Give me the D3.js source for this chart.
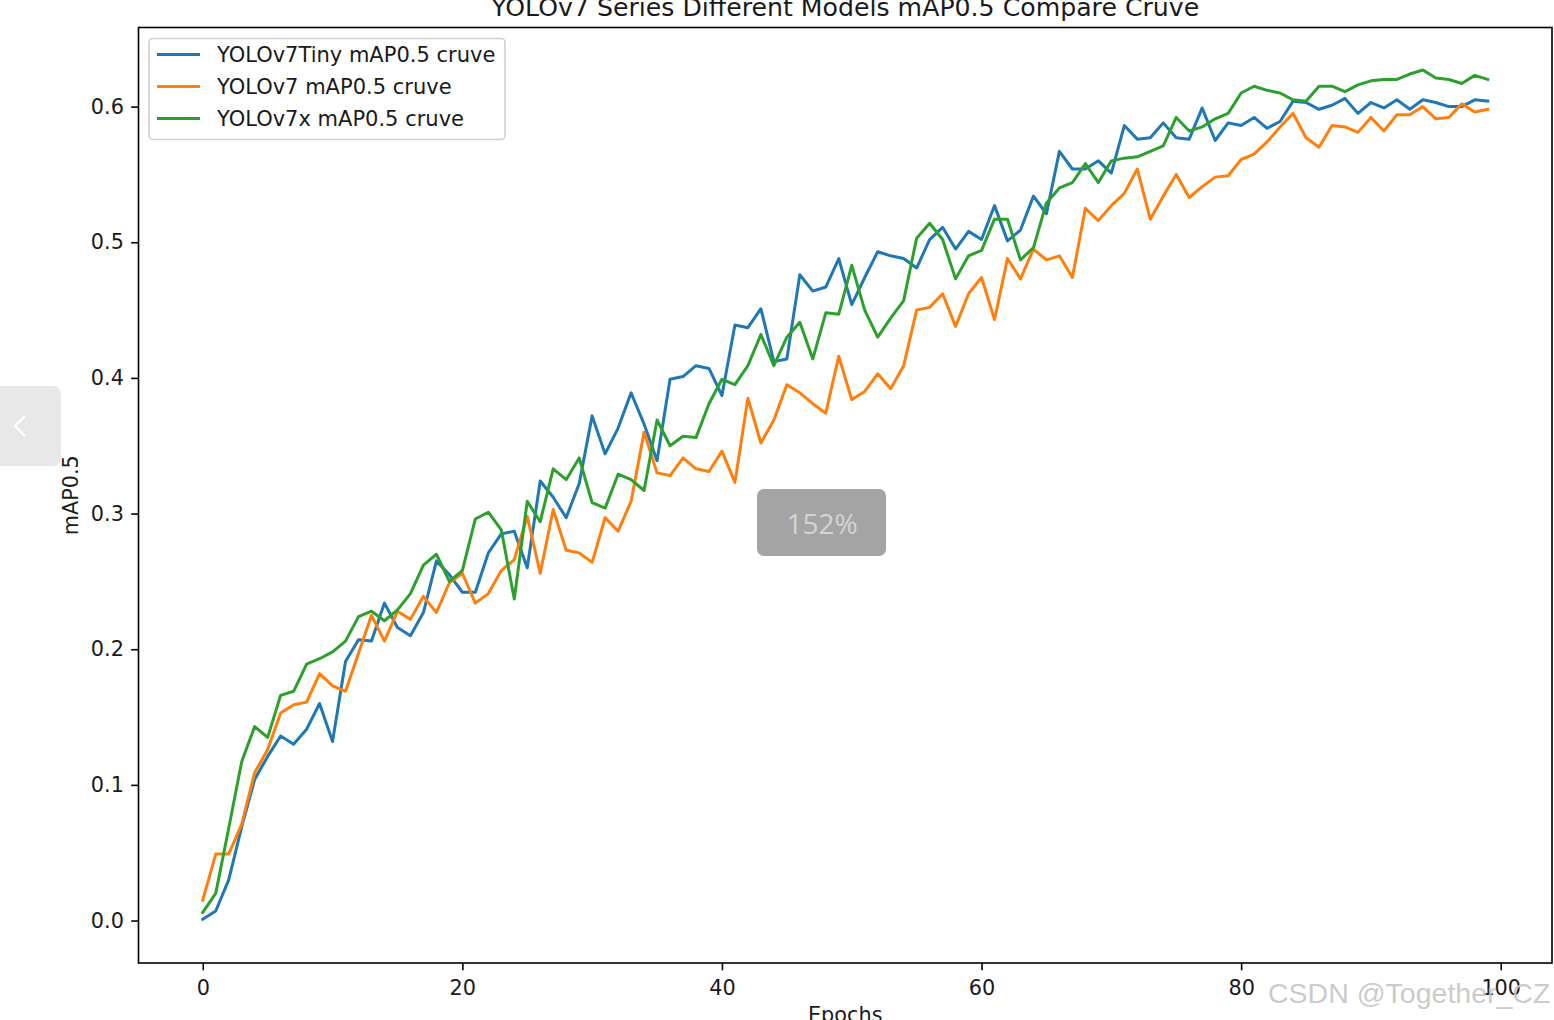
<!DOCTYPE html>
<html>
<head>
<meta charset="utf-8">
<script src="https://cdn.jsdelivr.net/npm/d3@7"></script>
<style>
  html, body { margin: 0; padding: 0; background: #fff; overflow: hidden; }
  svg { display: block; font-family: "DejaVu Sans", sans-serif; }
</style>
</head>
<body>
<svg id="chart" width="1554" height="1020"></svg>
<script>
// ---------------- data ----------------
const title = "YOLOv7 Series Different Models mAP0.5 Compare Cruve";
const xLabel = "Epochs";
const yLabel = "mAP0.5";
const seriesNames = ["YOLOv7Tiny mAP0.5 cruve", "YOLOv7 mAP0.5 cruve", "YOLOv7x mAP0.5 cruve"];
const seriesColors = ["#1f77b4", "#ff7f0e", "#2ca02c"];
const xTicks = [0, 20, 40, 60, 80, 100];
const yTicks = [0.0, 0.1, 0.2, 0.3, 0.4, 0.5, 0.6];

const tinyMap = [
  0.001,0.007,0.030,0.069,0.104,0.121,0.136,0.130,0.141,0.160,0.132,0.191,0.207,0.206,0.234,0.216,0.210,0.227,
  0.265,0.255,0.242,0.242,0.271,0.285,0.287,0.260,0.324,0.312,0.297,0.322,0.372,0.344,0.363,0.389,0.366,
  0.339,0.399,0.401,0.409,0.407,0.387,0.439,0.437,0.451,0.412,0.414,0.476,0.464,0.467,0.488,0.454,
  0.474,0.493,0.490,0.488,0.481,0.502,0.511,0.495,0.508,0.502,0.527,0.501,0.509,0.534,0.521,0.567,0.554,0.554,
  0.560,0.551,0.586,0.576,0.577,0.588,0.577,0.576,0.599,0.575,0.588,0.586,0.592,0.584,0.589,0.604,
  0.603,0.598,0.601,0.606,0.595,0.603,0.599,0.605,0.598,0.605,0.603,0.600,0.600,0.605,0.604
];
const v7Map = [
  0.015,0.049,0.049,0.071,0.109,0.126,0.153,0.159,0.161,0.182,0.173,0.169,0.197,0.225,0.206,0.228,0.222,0.239,
  0.227,0.249,0.256,0.234,0.241,0.258,0.266,0.298,0.256,0.303,0.273,0.271,0.264,0.297,0.287,0.309,0.360,
  0.330,0.328,0.341,0.333,0.331,0.346,0.323,0.385,0.352,0.369,0.395,0.389,0.381,0.374,0.416,0.384,
  0.390,0.403,0.392,0.409,0.450,0.452,0.462,0.438,0.462,0.474,0.443,0.488,0.473,0.495,0.487,0.490,0.474,0.525,
  0.516,0.527,0.536,0.554,0.517,0.534,0.550,0.533,0.541,0.548,0.549,0.561,0.565,0.574,0.585,0.595,
  0.577,0.570,0.586,0.585,0.581,0.592,0.582,0.594,0.594,0.600,0.591,0.592,0.602,0.596,0.598
];
const v7xMap = [
  0.006,0.020,0.068,0.117,0.143,0.135,0.166,0.169,0.189,0.193,0.198,0.206,0.224,0.228,0.221,0.229,0.241,0.262,
  0.270,0.250,0.258,0.296,0.301,0.288,0.237,0.309,0.294,0.333,0.325,0.341,0.308,0.304,0.329,0.325,0.317,
  0.369,0.350,0.357,0.356,0.381,0.399,0.395,0.409,0.432,0.409,0.430,0.441,0.414,0.448,0.447,0.483,
  0.450,0.430,0.444,0.457,0.503,0.514,0.502,0.473,0.490,0.494,0.517,0.517,0.487,0.496,0.529,0.540,0.544,0.558,
  0.544,0.560,0.562,0.563,0.567,0.571,0.592,0.582,0.585,0.591,0.595,0.610,0.615,0.612,0.610,0.605,
  0.604,0.615,0.615,0.611,0.616,0.619,0.620,0.620,0.624,0.627,0.621,0.620,0.617,0.623,0.620
];
const allSeries = [tinyMap, v7Map, v7xMap];

// ---------------- layout ----------------
const svg = d3.select("#chart");
const L = 138.5, R = 1552, T = 27.5, B = 963;
const fs = 20.8;

const x = d3.scaleLinear().domain([-4.95, 103.95]).range([L, R]);
const y = d3.scaleLinear().domain([-0.0313, 0.6583]).range([B, T]);

// clip
svg.append("defs").append("clipPath").attr("id", "clip")
  .append("rect").attr("x", L).attr("y", T).attr("width", R - L).attr("height", B - T);

// lines
const line = d3.line().x((d, i) => x(i)).y(d => y(d));
const plot = svg.append("g").attr("clip-path", "url(#clip)");
allSeries.forEach((s, k) => {
  plot.append("path").datum(s)
    .attr("d", line)
    .attr("fill", "none")
    .attr("stroke", seriesColors[k])
    .attr("stroke-width", 3)
    .attr("stroke-linejoin", "round")
    .attr("stroke-linecap", "square");
});

// axes
const xAxis = d3.axisBottom(x).tickValues(xTicks).tickFormat(d3.format("d")).tickSize(7.3).tickPadding(10);
const yAxis = d3.axisLeft(y).tickValues(yTicks).tickFormat(d3.format(".1f")).tickSize(7.3).tickPadding(7.3);

const gx = svg.append("g").attr("transform", `translate(0,${B})`).call(xAxis);
const gy = svg.append("g").attr("transform", `translate(${L},0)`).call(yAxis);
[gx, gy].forEach(g => {
  g.select(".domain").remove();
  g.selectAll(".tick line").attr("stroke", "#000").attr("stroke-width", 1.6);
  g.selectAll(".tick text").attr("fill", "#1a1a1a")
    .style("font-family", "DejaVu Sans").style("font-size", fs + "px");
});

// frame
svg.append("rect").attr("x", L).attr("y", T).attr("width", R - L).attr("height", B - T)
  .attr("fill", "none").attr("stroke", "#000").attr("stroke-width", 1.6);

// title & labels
svg.append("text").attr("x", (L + R) / 2).attr("y", 15.5).attr("text-anchor", "middle")
  .attr("fill", "#1a1a1a").style("font-size", "25.2px").text(title);
svg.append("text").attr("x", (L + R) / 2).attr("y", 1022).attr("text-anchor", "middle")
  .attr("fill", "#1a1a1a").style("font-size", fs + "px").text(xLabel);
svg.append("text").attr("transform", `translate(78,${(T + B) / 2}) rotate(-90)`)
  .attr("text-anchor", "middle").attr("fill", "#1a1a1a").style("font-size", fs + "px").text(yLabel);

// legend
const lg = svg.append("g");
lg.append("rect").attr("x", 149).attr("y", 38.5).attr("width", 356).attr("height", 101).attr("rx", 4)
  .attr("fill", "#fff").attr("fill-opacity", 0.8).attr("stroke", "#d0d0d0").attr("stroke-width", 1.6);
seriesNames.forEach((n, k) => {
  const cy = 54.5 + k * 32;
  lg.append("line").attr("x1", 157).attr("x2", 200).attr("y1", cy).attr("y2", cy)
    .attr("stroke", seriesColors[k]).attr("stroke-width", 3);
  lg.append("text").attr("x", 217).attr("y", cy + 7.5).attr("fill", "#1a1a1a")
    .style("font-size", "21px").text(n);
});

// page overlays present in the screenshot
const ov = svg.append("g");
ov.append("path").attr("d", "M0,386 H53 A8,8 0 0 1 61,394 V458 A8,8 0 0 1 53,466 H0 Z").attr("fill", "#e8e8e8");
ov.append("path").attr("d", "M25,416 L15,426 L25,436").attr("fill", "none").attr("stroke", "#fff").attr("stroke-width", 2.2);
ov.append("rect").attr("x", 757).attr("y", 489).attr("width", 129).attr("height", 67).attr("rx", 7).attr("fill", "#a3a4a3");
ov.append("text").attr("x", 822).attr("y", 534).attr("text-anchor", "middle").attr("fill", "#d4d4d4")
  .style("font-family", "Open Sans, sans-serif").style("font-size", "28px").text("152%");
ov.append("text").attr("x", 1268).attr("y", 1003).attr("fill", "#c4c4c4").attr("fill-opacity", 0.9)
  .style("font-family", "Liberation Sans, Arial, sans-serif").style("font-size", "28.5px").text("CSDN @Together_CZ");
</script>
</body>
</html>
